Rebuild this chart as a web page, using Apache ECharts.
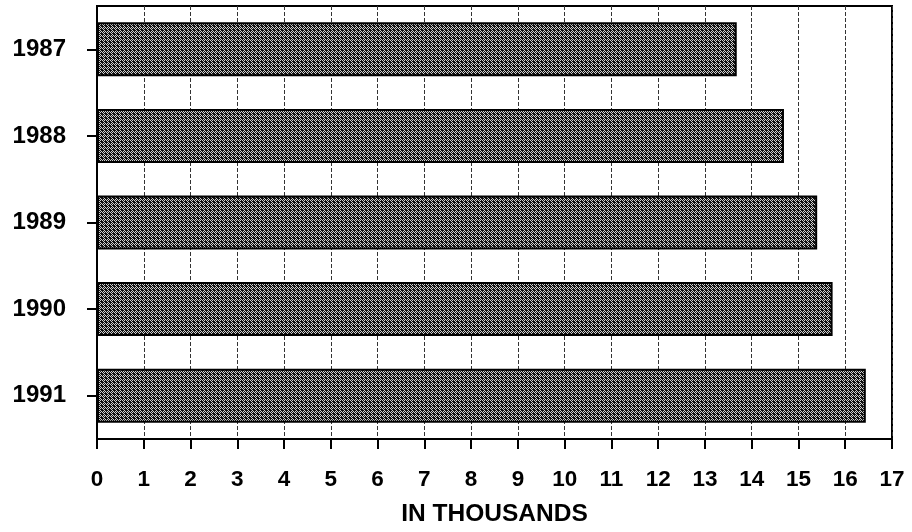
<!DOCTYPE html>
<html>
<head>
<meta charset="utf-8">
<script src="https://cdn.jsdelivr.net/npm/echarts@6/dist/echarts.min.js"></script>
<style>
html,body{margin:0;padding:0;background:#fff;}
#chart{width:912px;height:532px;}
</style>
</head>
<body>
<div id="chart"></div>
<script>
const years = ['1987', '1988', '1989', '1990', '1991'];
const values = [13.68, 14.69, 15.40, 15.73, 16.44];
const xTicks = [0, 1, 2, 3, 4, 5, 6, 7, 8, 9, 10, 11, 12, 13, 14, 15, 16, 17];
const xTitle = 'IN THOUSANDS';

// Dotted/checkered fill pattern for bars
const pat = document.createElement('canvas');
pat.width = 4; pat.height = 4;
const pc = pat.getContext('2d');
pc.fillStyle = '#111';
pc.fillRect(0, 0, 4, 4);
pc.fillStyle = '#d0d0d0';
[[0,0],[2,0],[1,1],[3,1],[0,2],[2,2],[1,3],[3,3]].forEach(function(p, i){
  if (i % 3 !== 2) pc.fillRect(p[0], p[1], 1, 1);
});

const chart = echarts.init(document.getElementById('chart'), null, {renderer: 'canvas'});
const font = '"Liberation Sans", Arial, Helvetica, sans-serif';
chart.setOption({
  animation: false,
  backgroundColor: '#fff',
  grid: {
    left: 97, right: 20, top: 6, bottom: 82,
    show: true, borderColor: '#000', borderWidth: 2, backgroundColor: 'transparent'
  },
  xAxis: {
    type: 'value',
    min: xTicks[0],
    max: xTicks[xTicks.length - 1],
    interval: 1,
    name: xTitle,
    nameLocation: 'middle',
    nameGap: 63,
    nameTextStyle: {fontFamily: font, fontWeight: 'bold', fontSize: 24.5, color: '#000'},
    axisLine: {show: true, lineStyle: {color: '#000', width: 2}},
    axisTick: {show: true, length: 10, lineStyle: {color: '#000', width: 2}},
    axisLabel: {fontFamily: font, fontWeight: 'bold', fontSize: 22.5, color: '#000', margin: 29,
      formatter: function(v){ return xTicks.indexOf(v) >= 0 ? String(v) : ''; }},
    splitLine: {show: true, lineStyle: {color: '#333', width: 1, type: [4, 2]}}
  },
  yAxis: {
    type: 'category',
    data: years,
    inverse: true,
    axisLine: {show: true, lineStyle: {color: '#000', width: 2}},
    axisTick: {show: true, alignWithLabel: true, length: 10, lineStyle: {color: '#000', width: 2}},
    axisLabel: {fontFamily: font, fontWeight: 'bold', fontSize: 24, color: '#000', margin: 31},
    splitLine: {show: false}
  },
  series: [{
    type: 'bar',
    data: values,
    barWidth: 54,
    itemStyle: {
      color: {image: pat, repeat: 'repeat'},
      borderColor: '#000',
      borderWidth: 2
    }
  }]
});
</script>
</body>
</html>
